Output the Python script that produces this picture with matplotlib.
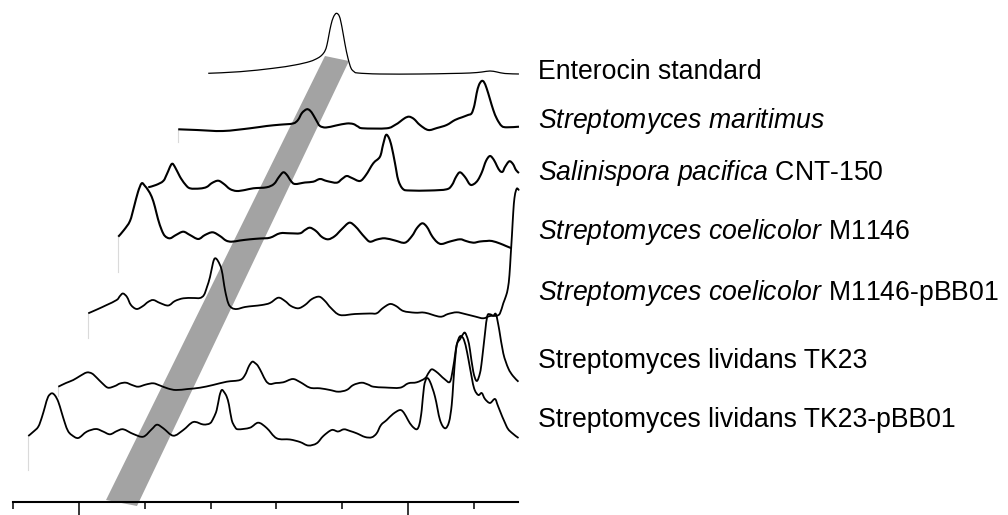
import numpy as np
import matplotlib
matplotlib.use('Agg')
import matplotlib.pyplot as plt
from matplotlib.path import Path
from matplotlib.patches import PathPatch

plt.rcParams['font.family'] = ['Liberation Sans', 'DejaVu Sans']
plt.rcParams['mathtext.fontset'] = 'custom'
plt.rcParams['mathtext.rm'] = 'Liberation Sans'
plt.rcParams['mathtext.it'] = 'Liberation Sans:italic'

# samples, top to bottom
labels = [
    'Enterocin standard',
    r'$\mathit{Streptomyces\ maritimus}$',
    r'$\mathit{Salinispora\ pacifica}$ CNT-150',
    r'$\mathit{Streptomyces\ coelicolor}$ M1146',
    r'$\mathit{Streptomyces\ coelicolor}$ M1146-pBB01',
    'Streptomyces lividans TK23',
    'Streptomyces lividans TK23-pBB01',
]

# retention time (min) and detector signal (arb.)
ent_t = [4.228, 4.710, 5.212, 5.546, 5.774, 5.896, 5.957, 6.002, 6.033, 6.063,
         6.094, 6.132, 6.177, 6.223, 6.261, 6.307, 6.352, 6.398, 6.443, 6.504,
         6.839, 7.447, 7.903, 8.207, 8.390, 8.511, 8.618, 8.739, 8.952]
ent_sig = [0, 1.6, 5, 8.3, 11.8, 15.3, 18.3, 22.3, 28.3, 38.3,
           48.3, 56.3, 60, 56.8, 46.3, 29.3, 15.3, 5.3, 1.8, 0.3,
           -0.7, -0.7, -0.2, 0.3, 1.3, 2.3, 1.3, -0.2, -0.7]

mar_t = [4.228, 4.508, 4.908, 5.318, 5.572, 5.774, 5.972, 6.048, 6.109, 6.180,
         6.231, 6.281, 6.337, 6.383, 6.474, 6.626, 6.789, 6.889, 6.960, 7.036,
         7.397, 7.523, 7.599, 7.675, 7.740, 7.812, 7.903, 8.029, 8.162, 8.309,
         8.435, 8.542, 8.633, 8.689, 8.732, 8.765, 8.800, 8.841, 8.876, 8.917,
         8.967, 9.018, 9.074, 9.146, 9.226, 9.409]
mar_sig = [0, -0.7, -1.7, 1, 3.3, 4.6, 5.8, 9.3, 16.3, 20,
           18.8, 14.3, 7.8, 3.3, 1.8, 3.8, 5.8, 5.3, 2.8, 1,
           1, 4.3, 7.6, 11.3, 12.6, 10.3, 4.3, -0.7, 1.3, 4.3,
           9.3, 12, 14.3, 16, 24.3, 36, 44.3, 48.3, 47.3, 41,
           30.3, 19.3, 10.3, 3.3, 2, 2.6]

sal_t = [4.228, 4.345, 4.456, 4.512, 4.584, 4.634, 4.710, 4.786, 4.862, 5.014,
         5.116, 5.197, 5.292, 5.379, 5.470, 5.572, 5.698, 5.825, 6.028, 6.139,
         6.215, 6.281, 6.337, 6.398, 6.459, 6.611, 6.737, 6.839, 6.941, 7.093,
         7.173, 7.245, 7.325, 7.447, 7.538, 7.649, 7.751, 7.797, 7.842, 7.888,
         7.929, 7.979, 8.029, 8.101, 8.207, 8.511, 8.765, 8.846, 8.907, 8.967,
         9.044, 9.120, 9.180, 9.241, 9.302, 9.363, 9.424, 9.484, 9.530, 9.576,
         9.617, 9.652, 9.717, 9.773, 9.819, 9.865]
sal_sig = [0, 2.3, 6.3, 13.3, 23.3, 20.3, 10.6, 3.3, -1, -1.2,
           0.3, 4.3, 6.6, 3.3, -1.7, -3.7, -2.7, -1, 0, 3.3,
           10.3, 15, 12.3, 6.3, 3.3, 4.8, 5.6, 8.3, 6.3, 4.6,
           8.3, 11.3, 9.3, 6.3, 12.3, 24, 30.6, 42.3, 52.3, 49.3,
           40.6, 24.3, 7.3, -1.7, -3.2, -3.2, -2, 2.3, 10.3, 15,
           10.3, 2.8, 3.3, 7.3, 15.3, 26.3, 31.3, 27.3, 21.3, 16.3,
           15.6, 20.3, 26, 23.3, 17.3, 14.3]

m1146_t = [4.228, 4.315, 4.406, 4.467, 4.528, 4.584, 4.634, 4.680, 4.736, 4.786,
           4.832, 4.888, 4.938, 5.014, 5.105, 5.216, 5.318, 5.444, 5.546, 5.663,
           5.774, 5.866, 5.952, 6.079, 6.231, 6.383, 6.535, 6.687, 6.839, 6.991,
           7.067, 7.143, 7.234, 7.325, 7.421, 7.523, 7.629, 7.740, 7.827, 7.903,
           7.979, 8.055, 8.162, 8.283, 8.435, 8.587, 8.694, 8.770, 8.850, 8.922,
           8.998, 9.074, 9.145, 9.272, 9.424, 9.515, 9.626, 9.728, 9.830, 9.910,
           10.032, 10.123, 10.210]
m1146_sig = [0, 6.7, 15.7, 29.7, 44.7, 53.4, 50.7, 46.7, 40, 29.7,
             17.7, 6.7, 0.7, -1.6, 1.7, 5, 1.7, -2.3, 1.7, 4.4,
             0.7, -3.8, -5, -3.8, -2.6, -1.8, -1, 3.4, 3.4, 3.4,
             6.7, 9, 5.7, -0.3, -2.6, 0.7, 7.7, 14, 10.7, 5,
             -0.8, -5, -2.8, -1.6, -3.8, -6, 0.7, 8.7, 13.4, 9.7,
             0.7, -5.3, -7.3, -4.8, -2.6, -4.3, -6, -4.8, -4.3, -4.3,
             -6.8, -9.3, -11.6]

m1146p_t = [4.228, 4.360, 4.508, 4.660, 4.710, 4.756, 4.817, 4.877, 4.964, 5.060,
            5.136, 5.216, 5.318, 5.444, 5.546, 5.673, 5.820, 5.926, 5.987, 6.033,
            6.079, 6.124, 6.155, 6.200, 6.256, 6.307, 6.357, 6.413, 6.489, 6.611,
            6.737, 6.869, 6.991, 7.117, 7.219, 7.310, 7.421, 7.523, 7.629, 7.740,
            7.827, 7.918, 8.055, 8.283, 8.511, 8.613, 8.709, 8.815, 8.907, 9.018,
            9.196, 9.348, 9.576, 9.697, 9.830, 9.956, 10.108, 10.234, 10.336, 10.438,
            10.488, 10.538, 10.579, 10.609, 10.632, 10.651, 10.670, 10.690, 10.708, 10.731,
            10.751, 10.777]
m1146p_sig = [0, 3.8, 8.3, 13.3, 17.3, 19.8, 16.3, 8.3, 4.3, 7.3,
              11.3, 13.3, 10.3, 7.8, 12.3, 15, 15.3, 15.3, 18.3, 26.3,
              36.3, 50.3, 55, 52.3, 43.3, 23.3, 10, 5.3, 4.3, 6.3,
              7.3, 8.3, 10.3, 15.6, 12.3, 7.3, 5, 8.3, 14.3, 16.6,
              12.3, 5.3, -1.7, -0.7, -0.2, 0, 5.3, 9.3, 7.3, 2.3,
              0.6, 0.6, -3.4, -0.7, 1, -0.7, -3.2, -5, -2.7, -2.4,
              0, 10, 17.3, 25.3, 38.3, 58.3, 78.3, 101.3, 115.3, 122.8,
              125, 122.8]

tk23_t = [4.228, 4.345, 4.456, 4.558, 4.660, 4.740, 4.817, 4.893, 4.984, 5.090,
          5.166, 5.257, 5.349, 5.444, 5.562, 5.673, 5.774, 5.896, 6.018, 6.200,
          6.383, 6.580, 6.789, 6.991, 7.067, 7.128, 7.178, 7.219, 7.265, 7.325,
          7.386, 7.447, 7.538, 7.649, 7.792, 7.903, 8.055, 8.207, 8.359, 8.485,
          8.613, 8.714, 8.841, 8.937, 9.018, 9.196, 9.424, 9.550, 9.678, 9.804,
          9.857, 9.906, 9.971, 10.032, 10.108, 10.184, 10.234, 10.286, 10.336, 10.374,
          10.412, 10.458, 10.488, 10.538, 10.590, 10.640, 10.670, 10.716, 10.751, 10.792,
          10.842, 10.883, 10.933, 10.994, 11.070, 11.142, 11.225]
tk23_sig = [0, 3.7, 6.7, 10.7, 14.2, 13.2, 8.7, 3.7, -1, 0.7,
            3.2, 4, 1.7, 0, 2.2, 3.4, 1.2, -1.8, -3.3, -2.3,
            -1, 1.7, 5, 6.7, 11.7, 20.7, 25, 23.7, 20.7, 13.4,
            5.7, 2.7, 3.7, 4.4, 7.7, 4.7, -1, -1.6, -3.3, -5,
            -3.3, 1.7, 4, 2.2, 0, -0.8, -1, 3.4, 4.4, 8.4,
            13.7, 17.4, 15.2, 11.7, 7.2, 5, 20, 41.7, 47.4, 51.7,
            54, 46.7, 36.7, 15, 5.7, 13.7, 26.7, 53.4, 70.7, 72.4,
            71, 72.4, 56.7, 33.4, 18.4, 10.7, 5]

tk23p_t = [4.228, 4.300, 4.380, 4.436, 4.482, 4.528, 4.584, 4.634, 4.684, 4.733,
           4.786, 4.832, 4.888, 4.988, 5.116, 5.257, 5.364, 5.470, 5.577, 5.673,
           5.825, 5.977, 6.104, 6.185, 6.281, 6.433, 6.585, 6.737, 6.889, 6.991,
           7.044, 7.093, 7.135, 7.169, 7.204, 7.245, 7.280, 7.321, 7.371, 7.421,
           7.599, 7.725, 7.853, 8.005, 8.207, 8.359, 8.485, 8.613, 8.714, 8.841,
           8.937, 9.028, 9.120, 9.221, 9.348, 9.450, 9.525, 9.591, 9.678, 9.773,
           9.880, 9.941, 10.001, 10.062, 10.134, 10.176, 10.210, 10.245, 10.286, 10.336,
           10.412, 10.488, 10.564, 10.625, 10.666, 10.690, 10.731, 10.769, 10.807, 10.853,
           10.899, 10.944, 11.005, 11.070, 11.122, 11.172, 11.248, 11.324, 11.374, 11.502,
           11.583, 11.682]
tk23p_sig = [0, 4, 9.3, 19, 29.3, 39, 42.7, 40.5, 34.3, 24,
             12.7, 5, 1, -2, 4.3, 7, 4.5, 1.7, 5, 6.7,
             2, -0.7, 6.7, 11.3, 7.7, 0.3, 6, 14, 11.5, 12.7,
             18, 26, 40, 46, 44, 39.3, 31, 16, 9, 6.7,
             8.3, 13.3, 8, -2.3, -3.5, -6, -9.5, -7.3, 0, 6,
             4.5, 6.7, 5, 2.7, -1, -1.3, 2.7, 11, 16, 22,
             26, 23, 16, 10, 6.7, 12, 26, 49.3, 57.7, 54.3,
             39.3, 16, 7.7, 14, 31, 52.7, 86, 97, 100, 96,
             84, 68, 48, 41, 43, 37, 33, 37, 29.3, 9.3,
             3, -2]

traces_t = [ent_t, mar_t, sal_t, m1146_t, m1146p_t, tk23_t, tk23p_t]
traces_sig = [ent_sig, mar_sig, sal_sig, m1146_sig, m1146p_sig, tk23_sig, tk23p_sig]

# vertical offset of each chromatogram and the injection dip at its start
baseline = [441.7, 385.7, 327.7, 278.3, 201.7, 128.3, 79.0]
start_dip = [0, -12.7, 0, -35, -24.7, -9, -34]

shift = 0.456  # horizontal stagger per trace (min)
line_w = [0.9, 1.5, 1.5, 1.5, 1.3, 1.3, 1.3]
label_y = [435.7, 386.7, 335.0, 275.7, 215.0, 146.7, 88.3]


def smooth_path(x, y):
    # catmull-rom through the read points, drawn as bezier segments
    pts = np.column_stack([x, y])
    ext = np.vstack([pts[0], pts, pts[-1]])
    verts = [pts[0]]
    codes = [Path.MOVETO]
    for j in range(len(pts) - 1):
        p0, p1, p2, p3 = ext[j], ext[j + 1], ext[j + 2], ext[j + 3]
        verts += [p1 + (p2 - p0) / 6, p2 - (p3 - p1) / 6, p2]
        codes += [Path.CURVE4] * 3
    return Path(verts, codes)


fig = plt.figure(figsize=(10.08, 5.15), dpi=100)
ax = fig.add_axes([0, 0, 1, 1])
ax.set_xlim(3.798, 19.124)
ax.set_ylim(0, 515)

# grey band following enterocin retention through the stack
ax.fill([8.739, 9.104, 5.881, 5.410], [459, 454, 9, 15],
        color='#a3a3a3', lw=0, zorder=1)

n = len(traces_t)
for i in range(n):
    k = n - 1 - i
    x = np.array(traces_t[i]) + k * shift
    y = baseline[i] + np.array(traces_sig[i])
    if start_dip[i]:
        ax.plot([x[0], x[0]], [y[0] + start_dip[i], y[0]],
                color='#dadada', lw=0.8, zorder=2)
    ax.add_patch(PathPatch(smooth_path(x, y), fill=False, edgecolor='black',
                           lw=line_w[i], joinstyle='round', zorder=3))
    ax.text(11.98, label_y[i], labels[i], fontsize=19.2, va='baseline', ha='left')

for s in ['top', 'right', 'left']:
    ax.spines[s].set_visible(False)
ax.spines['bottom'].set_position(('data', 13.3))
ax.spines['bottom'].set_bounds(3.99, 11.67)
ax.spines['bottom'].set_linewidth(1.5)
ax.set_xticks([5, 10])
ax.set_xticks(range(4, 12), minor=True)
ax.tick_params(axis='x', which='major', direction='out', length=9, width=1.1,
               labelbottom=False)
ax.tick_params(axis='x', which='minor', direction='out', length=4.7, width=1.1)
ax.set_yticks([])

fig.savefig('out.png', dpi=100)
